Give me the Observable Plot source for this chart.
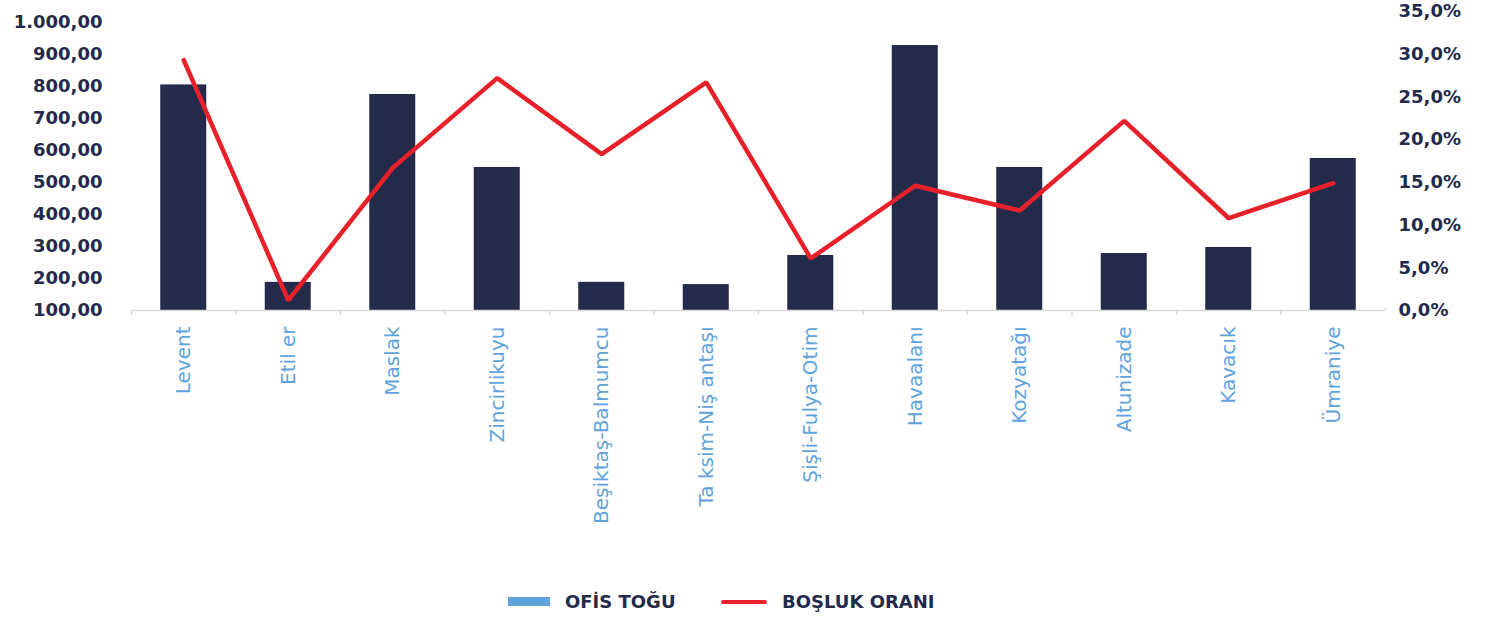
<!DOCTYPE html>
<html>
<head>
<meta charset="utf-8">
<script src="https://cdn.jsdelivr.net/npm/d3@7"></script>
<script src="https://cdn.jsdelivr.net/npm/@observablehq/plot@0.6"></script>
<style>
  html, body { margin: 0; padding: 0; background: #fff; }
  #chart svg { display: block; }
  .legend { position: relative; height: 43px; font-family: "DejaVu Sans", sans-serif; font-weight: bold; font-size: 18px; color: #232a4a; }
  .legend .item { position: absolute; top: 0; height: 43px; display: flex; align-items: center; }
  .legend .sw-bar { width: 42px; height: 9px; background: #5fa3dc; margin-right: 15px; }
  .legend .sw-line { width: 46px; height: 4px; border-radius: 2px; background: #e8202a; margin-right: 15px; }
</style>
</head>
<body>
<div id="chart"></div>
<div class="legend">
  <div class="item" style="left:508px"><span class="sw-bar"></span><span>OFİS TOĞU</span></div>
  <div class="item" style="left:721px"><span class="sw-line"></span><span>BOŞLUK ORANI</span></div>
</div>
<script>
const districts = ["Levent", "Etil er", "Maslak", "Zincirlikuyu", "Beşiktaş-Balmumcu", "Ta ksim-Niş antaşı", "Şişli-Fulya-Otim", "Havaalanı", "Kozyatağı", "Altunizade", "Kavacık", "Ümraniye"];
const officeStock = [805, 188, 775, 547, 188, 181, 272, 928, 547, 278, 297, 575];
const vacancyRate = [29.3, 1.2, 16.7, 27.2, 18.3, 26.7, 6.1, 14.6, 11.7, 22.2, 10.8, 14.9];
const leftTicks = [100, 200, 300, 400, 500, 600, 700, 800, 900, 1000];
const rightTicks = [0, 5, 10, 15, 20, 25, 30, 35];

// left axis spans 100..1034.4 so that 35% on the right axis aligns with the top
const yMin = 100, yMax = 1034.4, pctMax = 35;
const toLeft = p => yMin + p / pctMax * (yMax - yMin);
const fromLeft = v => (v - yMin) / (yMax - yMin) * pctMax;

const tr = d3.formatLocale({decimal: ",", thousands: ".", grouping: [3], currency: ["", ""]});
const fmtLeft = tr.format(",.2f");
const fmtRight = tr.format(",.1f");

const data = districts.map((d, i) => ({district: d, stock: officeStock[i], rate: vacancyRate[i], rateY: toLeft(vacancyRate[i])}));

const navy = "#232a4a";
const chart = Plot.plot({
  width: 1491,
  height: 580,
  marginLeft: 131,
  marginRight: 106,
  marginTop: 11,
  marginBottom: 270,
  style: {fontFamily: "DejaVu Sans, sans-serif", fontSize: "18px", color: navy, background: "#fff"},
  x: {domain: districts, padding: 0, round: false, label: null},
  y: {domain: [yMin, yMax], label: null},
  marks: [
    Plot.barY(data, {x: "district", y1: yMin, y2: "stock", fill: navy, insetLeft: 29.25, insetRight: 29.25}),
    Plot.ruleY([yMin], {stroke: "#d9d9d9", strokeWidth: 1.5}),
    Plot.ruleX(districts, {x: d => d, y1: yMin, y2: yMin - 16, dx: -52.25, stroke: "#d9d9d9", strokeWidth: 1.5}),
    Plot.ruleX([districts[districts.length - 1]], {x: d => d, y1: yMin, y2: yMin + 6, dx: 52.25, stroke: "#d9d9d9", strokeWidth: 1.5}),
    Plot.line(data, {x: "district", y: "rateY", stroke: "#e8202a", strokeWidth: 4.5, strokeLinejoin: "miter"}),
    Plot.axisY(leftTicks, {anchor: "left", tickSize: 0, tickPadding: 29, tickFormat: fmtLeft, fill: navy, fontSize: 18, fontWeight: "bold", label: null}),
    Plot.axisY(rightTicks.map(toLeft), {anchor: "right", tickSize: 0, tickPadding: 13, tickFormat: v => fmtRight(Math.round(fromLeft(v) * 10) / 10) + "%", fill: navy, fontSize: 18, fontWeight: "bold", label: null}),
    Plot.axisX({tickSize: 0, tickPadding: 16, tickRotate: -90, fill: "#5fa3dc", fontSize: 20, label: null})
  ]
});
document.getElementById("chart").appendChild(chart);
</script>
</body>
</html>
